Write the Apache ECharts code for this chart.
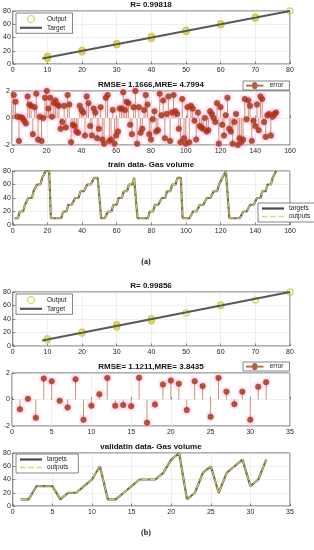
<!DOCTYPE html>
<html><head><meta charset="utf-8">
<script src="https://cdn.jsdelivr.net/npm/echarts@6/dist/echarts.min.js"></script>
<style>html,body{margin:0;padding:0;background:#fff}#c{width:314px;height:550px}</style>
</head><body><div id="c"></div>
<script>
// ---- Data ----
const out1X = [10,10,10,10,20,20,20,30,30,30,40,40,40,50,50,50,60,60,60,70,70,70,80];
const out1Y = [8,10,12,11,18,20,21,29,30,31,38,40,42,49,50,51,59,60,61,69,70,71,80];
const tgt1X = [8.5,80];
const tgt1Y = [8.3,80];
const err1 = [1.7,1.2,0.1,-1.7,0.05,0.0,-0.2,-0.4,1.6,1.0,0.9,-1.2,0.8,1.8,-1.6,0.1,-1.7,0.0,1.5,2.0,
  0.7,1.5,0.1,1.1,1.3,1.0,0.9,-0.8,-0.3,0.9,-0.7,1.7,1.0,-1.8,-0.5,-0.6,-1.0,-1.1,0.9,0.6,
  0.4,-1.3,1.6,1.1,-0.6,-1.3,0.7,0.4,-1.5,-0.8,0.8,-1.6,-1.9,1.5,1.7,-1.7,-1.6,0.6,-1.9,-1.3,
  -1.0,0.7,0.7,1.9,0.6,1.2,1.1,-0.5,-1.2,0.8,2.0,-1.9,0.8,-1.1,-0.8,0.6,1.7,1.0,-1.2,-1.6,
  -0.1,0.5,-1.0,-0.9,1.8,0.2,1.3,-1.5,0.3,1.6,-1.7,0.4,1.7,0.5,0.3,-0.8,-1.8,1.4,-1.5,-1.9,
  0.8,-1.8,0.9,0.7,-0.2,-1.6,0.4,-0.6,-0.7,-0.8,0.0,-1.0,-0.9,0.5,0.3,0.0,-0.3,1.1,-1.9,0.8,
  -0.5,-1.3,0.2,1.5,-0.8,-1.0,-1.9,-0.3,0.3,-2.0,-1.5,-1.8,-1.6,1.4,-0.1,1.3,0.9,-1.7,-0.2,-0.6,
  1.0,-0.9,1.6,1.4,-0.3,-1.4,0.2,0.3,-1.3,0.1,0.3,0.4];
const trainTargets = [10,10,10,20,20,20,30,30,40,40,40,50,50,60,60,60,70,70,80,80,80,
  10,10,10,10,10,10,10,20,20,20,30,30,30,30,40,40,40,50,50,50,50,60,60,60,60,70,70,70,70,
  10,10,10,10,20,20,20,30,30,30,40,40,40,50,50,50,60,60,60,70,70,
  10,10,10,10,10,10,10,20,20,20,30,30,30,30,40,40,40,50,50,50,60,60,60,70,70,70,
  10,10,10,10,10,10,20,20,20,20,30,30,30,30,40,40,40,40,50,50,50,60,60,70,70,80,80,
  10,10,10,10,10,10,10,10,20,20,20,20,30,30,30,30,40,40,40,50,50,50,60,60,60,70,70,80];
const trainOutputs = [10,10,10,20,20,20,30,30,40,40,40,50,50,60,60,60,70,70,80,80,80,
  10,10,10,10,10,10,10,20,20,20,30,30,30,30,40,40,40,50,50,50,50,60,60,60,60,70,70,70,70,
  10,10,10,10,20,20,20,30,30,30,40,40,40,50,50,50,60,60,60,70,70,
  10,10,10,10,10,10,10,20,20,20,30,30,30,30,40,40,40,50,50,50,60,60,60,70,70,70,
  10,10,10,10,10,10,20,20,20,20,30,30,30,30,40,40,40,40,50,50,50,60,60,70,70,80,80,
  10,10,10,10,10,10,10,10,20,20,20,20,30,30,30,30,40,40,40,50,50,50,60,60,60,70,70,80];
const out2X = [10,10,20,20,30,30,30,40,40,40,50,60,60,70,80];
const out2Y = [9,11,19,21,28,30,32,37,39,41,49,60,61,68,80];
const tgt2X = [8.5,80];
const tgt2Y = [8.2,80];
const err2 = [-0.74,0.05,-1.38,1.58,1.38,-0.1,-0.6,1.53,-1.53,-0.47,0.4,1.63,-0.47,-0.42,-0.5,1.65,
  -1.75,-0.38,1.14,1.43,1.19,-0.8,1.38,1.01,-1.31,1.63,0.59,-0.35,0.59,-1.53,0.96,1.31];
const valTargets = [10,10,30,30,30,10,20,20,30,40,60,10,10,20,30,40,40,40,50,70,80,10,20,50,60,20,50,60,70,30,40,70];
const valOutputs = [10,10,30,30,30,10,20,20,30,40,60,10,10,20,30,40,40,40,50,70,80,10,20,50,60,20,50,60,70,30,40,70];
const titles = ['R= 0.99818','RMSE= 1.1666,MRE= 4.7994','train data- Gas volume','R= 0.99856','RMSE= 1.1211,MRE= 3.8435','validatin data- Gas volume'];
const xTicks = [[0,80,10],[0,160,20],[0,160,20],[0,80,10],[0,35,5],[0,35,5]];
const yTicks = [[0,80,20],[-2,2,2],[0,80,20],[0,80,20],[-2,2,2],[0,80,20]];

// ---- helpers ----
const zip = (xs, ys) => xs.map((x, i) => [x, ys[i]]);
const idx = arr => arr.map((v, i) => [i + 1, v]);
const FONT = '"Liberation Sans", Arial, sans-serif';
const tops = [11, 91, 171, 292, 373, 453];
const heights = [53, 54, 54, 54, 53, 53];
const grids = tops.map((t, i) => ({left: 12, width: 278, top: t, height: heights[i], show: true,
  backgroundColor: '#fff', borderColor: '#3a3a3a', borderWidth: 0.8}));
const axisCommon = {
  axisLine: {show: false},
  axisTick: {show: true, inside: true, length: 2.5, lineStyle: {color: '#3a3a3a', width: 0.6}},
  splitLine: {show: true, lineStyle: {color: '#e4e4e4', width: 0.6}},
  axisLabel: {fontSize: 7, color: '#262626', fontFamily: FONT}
};
const xAxes = xTicks.map((t, i) => Object.assign({}, axisCommon, {type: 'value', gridIndex: i, min: t[0], max: t[1], interval: t[2],
  axisLabel: Object.assign({}, axisCommon.axisLabel, {margin: 3})}));
const yAxes = yTicks.map((t, i) => Object.assign({}, axisCommon, {type: 'value', gridIndex: i, min: t[0], max: t[1], interval: t[2],
  axisLabel: Object.assign({}, axisCommon.axisLabel, {margin: 2})}));

const outStyle = {color: 'rgba(0,0,0,0)', borderColor: '#d2c93a', borderWidth: 1.3};
const markerStyle = {color: '#8a3c12', borderColor: '#e2281c', borderWidth: 0.8};
const stemColor = '#d88c7e';
const tgtColor = '#585858';
const trColor = '#6c6a4a';
const outColor = '#cfc66a';
const stemIcon = 'path://M0,4H7A3,3 0 0 1 13,4H20V6H13A3,3 0 0 1 7,6H0Z';
const lineIcon = 'path://M0,4H20V6H0Z';
const dashIcon = 'path://M0,4.4H5V5.6H0Z M7.5,4.4H12.5V5.6H7.5Z M15,4.4H20V5.6H15Z';

function scatterFit(gi, xs, ys, tx, ty) {
  return [
    {name: 'Output', type: 'scatter', xAxisIndex: gi, yAxisIndex: gi, data: zip(xs, ys), symbol: 'circle', symbolSize: 6, itemStyle: outStyle, z: 3},
    {name: 'Target', type: 'line', xAxisIndex: gi, yAxisIndex: gi, data: zip(tx, ty), symbol: 'none', itemStyle: {color: tgtColor}, lineStyle: {color: tgtColor, width: 2}, z: 4}
  ];
}
function stems(gi, errs) {
  return [
    {name: 'halo', type: 'scatter', xAxisIndex: gi, yAxisIndex: gi, data: idx(errs), symbol: 'rect', symbolSize: 9, itemStyle: {color: 'rgba(255,185,232,0.5)'}, silent: true, z: 1},
    {name: 'stem', type: 'bar', xAxisIndex: gi, yAxisIndex: gi, data: idx(errs), barWidth: 1, itemStyle: {color: stemColor}, silent: true, z: 2},
    {name: 'error', type: 'scatter', xAxisIndex: gi, yAxisIndex: gi, data: idx(errs), symbol: 'circle', symbolSize: 5.5, itemStyle: markerStyle, z: 3}
  ];
}
function traces(gi, t, o) {
  return [
    {name: 'targets', type: 'line', xAxisIndex: gi, yAxisIndex: gi, data: idx(t), symbol: 'none', itemStyle: {color: trColor}, lineStyle: {color: trColor, width: 2.2}, z: 3},
    {name: 'outputs', type: 'line', xAxisIndex: gi, yAxisIndex: gi, data: idx(o), symbol: 'none', itemStyle: {color: outColor}, lineStyle: {color: outColor, width: 1.1, type: [6, 2]}, z: 4}
  ];
}
const legendBase = {orient: 'vertical', backgroundColor: '#fff', borderColor: '#333', borderWidth: 0.6,
  padding: [1, 4], itemGap: 1, itemWidth: 22, itemHeight: 7, textStyle: {fontSize: 6.5, color: '#222', fontFamily: FONT}, selectedMode: false};
const legFit = top => Object.assign({}, legendBase, {left: 16, top: top, padding: [2, 6, 2, 4],
  data: [{name: 'Output', icon: 'circle', itemStyle: outStyle},
         {name: 'Target', icon: lineIcon, itemStyle: {color: tgtColor, borderWidth: 0}}]});
const legErr = top => Object.assign({}, legendBase, {left: 243, top: top, padding: [1, 6, 1, 3], itemWidth: 20, itemHeight: 7,
  data: [{name: 'error', icon: stemIcon, itemStyle: {color: '#9a3a14', borderWidth: 0}}]});
const legTr = (left, top) => Object.assign({}, legendBase, {left: left, top: top, padding: [2, 10, 2, 4],
  data: [{name: 'targets', icon: lineIcon, itemStyle: {color: '#4a4a4a', borderWidth: 0}},
         {name: 'outputs', icon: dashIcon, itemStyle: {color: '#e0d660', borderWidth: 0}}]});

const option = {
  animation: false,
  backgroundColor: '#fff',
  title: titles.map((t, i) => ({text: t, left: 151, top: tops[i] - 10, padding: 0, textAlign: 'center',
    textStyle: {fontSize: 8, fontWeight: 'bold', color: '#111', fontFamily: FONT, lineHeight: 8}})),
  grid: grids,
  xAxis: xAxes,
  yAxis: yAxes,
  legend: [legFit(13), legErr(81), legTr(258, 203), legFit(294), legErr(362), legTr(16, 454)],
  series: [].concat(
    scatterFit(0, out1X, out1Y, tgt1X, tgt1Y),
    stems(1, err1),
    traces(2, trainTargets, trainOutputs),
    scatterFit(3, out2X, out2Y, tgt2X, tgt2Y),
    stems(4, err2),
    traces(5, valTargets, valOutputs)
  ),
  graphic: [
    {type: 'text', x: 146, y: 262, style: {text: '(a)', font: 'bold 8px "Liberation Serif", serif', fill: '#111', align: 'center', verticalAlign: 'middle'}},
    {type: 'text', x: 146, y: 533, style: {text: '(b)', font: 'bold 8px "Liberation Serif", serif', fill: '#111', align: 'center', verticalAlign: 'middle'}}
  ]
};
echarts.init(document.getElementById('c'), null, {renderer: 'canvas'}).setOption(option);
</script></body></html>
